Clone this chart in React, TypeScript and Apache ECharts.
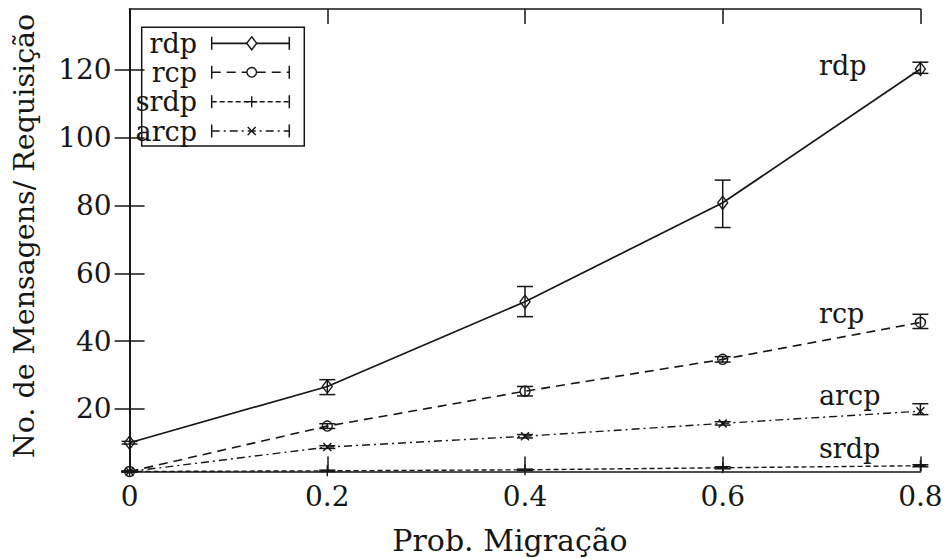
import React, { useEffect, useRef } from "react";
import * as echarts from "echarts";

// ---- data ----
const xValues = [0, 0.2, 0.4, 0.6, 0.8];
const yTicks = [20, 40, 60, 80, 100, 120];

const rdp = [10.0, 26.6, 51.6, 80.8, 120.3];
const rdpLow = [9.6, 24.2, 47.2, 73.5, 119.0];
const rdpHigh = [10.4, 28.6, 56.1, 87.5, 122.3];

const rcp = [1.5, 14.9, 25.2, 34.6, 45.5];
const rcpLow = [1.3, 14.2, 23.8, 33.8, 43.7];
const rcpHigh = [1.7, 15.6, 26.6, 35.4, 47.9];

const srdp = [1.5, 1.7, 2.0, 2.6, 3.2];
const srdpLow = [1.4, 1.5, 1.8, 2.3, 2.9];
const srdpHigh = [1.6, 1.9, 2.2, 2.9, 3.5];

const arcp = [1.5, 8.7, 11.9, 15.7, 19.3];
const arcpLow = [1.3, 8.3, 11.4, 15.2, 18.3];
const arcpHigh = [1.7, 9.1, 12.4, 16.2, 21.5];

const seriesNames = ["rdp", "rcp", "srdp", "arcp"];
const xTitle = "Prob. Migração";
const yTitle = "No. de Mensagens/ Requisição";

// ---- styles ----
const INK = "#161616";
const FONT = "'DejaVu Serif', 'Liberation Serif', serif";
const PLUS = "path://M0,5L10,5M5,0L5,10";
const CROSS = "path://M0,0L10,10M10,0L0,10";

const pts = (ys: number[]) => xValues.map((x, i) => [x, ys[i]]);
const errs = (lo: number[], hi: number[]) => xValues.map((x, i) => [x, lo[i], hi[i]]);

const errRender = (params: any, api: any) => {
  const x = api.value(0);
  const lo = api.coord([x, api.value(1)]);
  const hi = api.coord([x, api.value(2)]);
  const w = 8;
  const style = { stroke: INK, lineWidth: 1.5 };
  return {
    type: "group",
    children: [
      { type: "line", shape: { x1: lo[0], y1: lo[1], x2: hi[0], y2: hi[1] }, style },
      { type: "line", shape: { x1: lo[0] - w, y1: lo[1], x2: lo[0] + w, y2: lo[1] }, style },
      { type: "line", shape: { x1: hi[0] - w, y1: hi[1], x2: hi[0] + w, y2: hi[1] }, style },
    ],
  };
};

const seriesDefs = [
  { name: seriesNames[0], data: pts(rdp), err: errs(rdpLow, rdpHigh), dash: "solid" as any, width: 1.7, symbol: "diamond", size: [10, 13] },
  { name: seriesNames[1], data: pts(rcp), err: errs(rcpLow, rcpHigh), dash: [9, 6], width: 1.6, symbol: "circle", size: 10 },
  { name: seriesNames[2], data: pts(srdp), err: errs(srdpLow, srdpHigh), dash: [5, 3], width: 1.4, symbol: PLUS, size: 11 },
  { name: seriesNames[3], data: pts(arcp), err: errs(arcpLow, arcpHigh), dash: [8, 4, 2, 4], width: 1.4, symbol: CROSS, size: 8 },
];

function legendGraphics() {
  const rowsY = [43.3, 72.3, 101.7, 131];
  const x1 = 211.7, x2 = 289.3, xm = 251.7, cap = 6.5;
  const items: any[] = [
    { type: "rect", shape: { x: 141.7, y: 27.3, width: 162.6, height: 118.7 }, style: { fill: "none", stroke: INK, lineWidth: 1.5 } },
  ];
  seriesDefs.forEach((s, i) => {
    const y = rowsY[i];
    const ls = { stroke: INK, lineWidth: s.width, lineDash: Array.isArray(s.dash) ? s.dash : null };
    items.push({ type: "text", x: 197, y, style: { text: s.name, fontSize: 27, fontFamily: FONT, fill: INK, align: "right", verticalAlign: "middle" } });
    items.push({ type: "line", shape: { x1, y1: y, x2, y2: y }, style: ls });
    items.push({ type: "line", shape: { x1, y1: y - cap, x2: x1, y2: y + cap }, style: { stroke: INK, lineWidth: 1.5 } });
    items.push({ type: "line", shape: { x1: x2, y1: y - cap, x2, y2: y + cap }, style: { stroke: INK, lineWidth: 1.5 } });
    const ms = { stroke: INK, lineWidth: 1.4, fill: "#fff" };
    if (i === 0) items.push({ type: "polygon", shape: { points: [[xm, y - 6.5], [xm + 5, y], [xm, y + 6.5], [xm - 5, y]] }, style: ms });
    if (i === 1) items.push({ type: "circle", shape: { cx: xm, cy: y, r: 4.8 }, style: ms });
    if (i === 2) {
      items.push({ type: "line", shape: { x1: xm - 5.5, y1: y, x2: xm + 5.5, y2: y }, style: ms });
      items.push({ type: "line", shape: { x1: xm, y1: y - 5.5, x2: xm, y2: y + 5.5 }, style: ms });
    }
    if (i === 3) {
      items.push({ type: "line", shape: { x1: xm - 4, y1: y - 4, x2: xm + 4, y2: y + 4 }, style: ms });
      items.push({ type: "line", shape: { x1: xm - 4, y1: y + 4, x2: xm + 4, y2: y - 4 }, style: ms });
    }
  });
  return items;
}

export default function App() {
  const ref = useRef<HTMLDivElement>(null);
  useEffect(() => {
    if (!ref.current) return;
    const chart = echarts.init(ref.current, undefined, { renderer: "svg" });
    const axisLine = { show: true, lineStyle: { color: INK, width: 1.7 } };
    const tick = { show: true, inside: true, length: 15, lineStyle: { color: INK, width: 1.5 } };
    const label = { color: INK, fontFamily: FONT, fontSize: 28 };
    const lineSeries = seriesDefs.map((s) => ({
      type: "line",
      name: s.name,
      data: s.data,
      symbol: s.symbol,
      symbolSize: s.size,
      showSymbol: true,
      lineStyle: { color: INK, width: s.width, type: s.dash },
      itemStyle: { color: "rgba(0,0,0,0)", borderColor: INK, borderWidth: 1.4 },
      z: 3,
    }));
    const errSeries = seriesDefs.map((s) => ({
      type: "custom",
      name: s.name + "-err",
      data: s.err,
      renderItem: errRender,
      encode: { x: 0, y: [1, 2] },
      z: 4,
    }));
    const rightLabels = [
      { text: "rdp", y: 65 },
      { text: "rcp", y: 313 },
      { text: "arcp", y: 395 },
      { text: "srdp", y: 448 },
    ];
    chart.setOption({
      animation: false,
      backgroundColor: "#fff",
      grid: { left: 129.6, right: 27.6, top: 9, bottom: 86.5 },
      xAxis: [
        { type: "value", min: 0, max: 0.8, interval: 0.2, position: "bottom", axisLine, axisTick: tick, axisLabel: { ...label, margin: 11 }, splitLine: { show: false } },
        { type: "value", min: 0, max: 0.8, interval: 0.2, position: "top", axisLine, axisTick: tick, axisLabel: { show: false }, splitLine: { show: false } },
      ],
      yAxis: [
        { type: "value", min: 1.5, max: 138, position: "left", axisLine, axisTick: { ...tick, customValues: yTicks }, axisLabel: { ...label, margin: 18, customValues: yTicks }, splitLine: { show: false } },
        { type: "value", min: 1.5, max: 138, position: "right", axisLine, axisTick: { ...tick, customValues: yTicks }, axisLabel: { show: false, customValues: yTicks }, splitLine: { show: false } },
      ],
      series: [...lineSeries, ...errSeries],
      graphic: [
        ...legendGraphics(),
        ...rightLabels.map((l) => ({ type: "text", x: 819, y: l.y, style: { text: l.text, fontSize: 27, fontFamily: FONT, fill: INK, align: "left", verticalAlign: "middle" } })),
        { type: "text", x: 510, y: 540, style: { text: xTitle, fontSize: 30, fontFamily: FONT, fill: INK, align: "center", verticalAlign: "middle" } },
        { type: "text", x: 24, y: 236, rotation: Math.PI / 2, style: { text: yTitle, fontSize: 28.5, fontFamily: FONT, fill: INK, align: "center", verticalAlign: "middle" } },
      ],
    });
    return () => chart.dispose();
  }, []);
  return <div ref={ref} style={{ position: "absolute", left: 0, top: 0, width: 948, height: 558, background: "#fff" }} />;
}
